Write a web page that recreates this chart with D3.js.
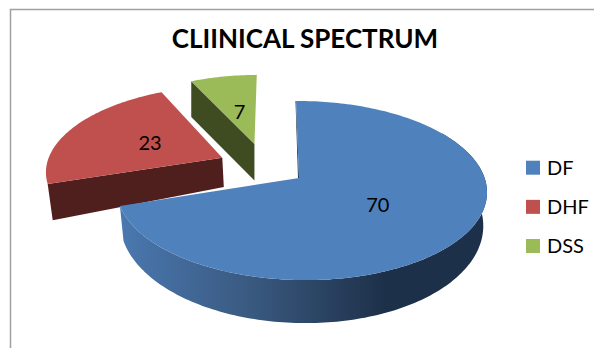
<!DOCTYPE html>
<html>
<head>
<meta charset="utf-8">
<script src="https://cdn.jsdelivr.net/npm/d3@7/dist/d3.min.js"></script>
<style>
html,body{margin:0;padding:0;background:#fff}
svg{display:block}
text{font-family:Lato,"Open Sans",sans-serif;fill:#000}
</style>
</head>
<body>
<svg id="chart" width="594" height="348"></svg>
<script>
const titleText = "CLIINICAL SPECTRUM";
const categories = ["DF", "DHF", "DSS"];
const values = [70, 23, 7];
const faceColors = ["#4f81bd", "#c0504d", "#9bbb59"];
const wallColors = ["#1f3552", "#4f1f1e", "#3f4b21"];

// Exploded offset of each slice on the pie's ground plane, in radii.
const explode = [[0, 0], [-0.43, -0.24], [-0.25, -0.41]];
// Distance of each value label from its slice's apex, in radii.
const labelRadius = [0.5, 0.47, 0.45];
// Lower rim of each slice: vertical drop, vertical stretch, horizontal stretch.
const lowerRim = [
  {dy: 32, ky: 1.108, kx: 0.98},
  {dy: 34.6, ky: 1.264, kx: 0.98},
  {dy: 36.7, ky: 1.01, kx: 1}
];
const topRim = {dy: 0, ky: 1, kx: 1};

const svg = d3.select("#chart");

// Perspective view of the tilted pie: ground-plane radii to screen pixels.
const view = {cx: 299, cy: 178, ax: 183.4, ay: 87.8, bv: -0.14, bu: -0.012, shear: 0.039};
function project(U, V, rim) {
  const w = 1 + view.bv * V + view.bu * U;
  const yFace = view.ay * V / w;
  const y = view.cy + rim.dy + rim.ky * yFace;
  const x = view.cx + rim.kx * view.ax * U / w + view.shear * yFace;
  return [x, y];
}

const arcs = d3.pie().sort(null).value(d => d)(values);
const line = d3.line();
const color = d3.scaleOrdinal().domain(categories).range(faceColors);

function rimPoints(a0, a1, off, rim) {
  const n = Math.max(2, Math.ceil((a1 - a0) / 0.02));
  return d3.range(n + 1).map(i => {
    const a = a0 + (a1 - a0) * i / n;
    return project(off[0] + Math.sin(a), off[1] - Math.cos(a), rim);
  });
}

// Shading along the front wall of the largest slice.
const defs = svg.append("defs");
const grad = defs.append("linearGradient")
  .attr("id", "frontWall").attr("gradientUnits", "userSpaceOnUse")
  .attr("x1", 120).attr("x2", 385).attr("y1", 0).attr("y2", 0);
grad.append("stop").attr("offset", 0).attr("stop-color", "#4a78b0");
grad.append("stop").attr("offset", 0.5).attr("stop-color", "#39597f");
grad.append("stop").attr("offset", 1).attr("stop-color", "#1d3049");

// Chart frame: only the top and left edges fall inside the canvas.
svg.append("path")
  .attr("d", "M10.5,348V9.5H594")
  .attr("fill", "none").attr("stroke", "#a0a0a0").attr("stroke-width", 1.5);

svg.append("text")
  .attr("x", 305).attr("y", 48).attr("text-anchor", "middle")
  .attr("font-size", 26).attr("font-weight", 700)
  .text(titleText);

// Far slices first so the near ones overlap them.
const order = [2, 1, 0];
const pieLayer = svg.append("g");
order.forEach(i => {
  const d = arcs[i], off = explode[i], low = lowerRim[i];
  const g = pieLayer.append("g");
  const apexTop = project(off[0], off[1], topRim);
  const apexLow = project(off[0], off[1], low);

  if (i === 0) {
    // Curved outer wall along the front of the pie.
    const t = rimPoints(1.0, d.endAngle, off, topRim);
    const b = rimPoints(1.0, d.endAngle, off, low).reverse();
    g.append("path").attr("d", line(t.concat(b)) + "Z").attr("fill", "url(#frontWall)");
    // Thin visible sliver of the vertical cut at twelve o'clock.
    const o = project(off[0], off[1] - 1, topRim);
    g.append("path")
      .attr("d", line([o, apexTop, [apexTop[0] - 1, apexTop[1]], [o[0] - 0.5, o[1]]]) + "Z")
      .attr("fill", wallColors[0]);
  } else {
    // Flat cut face towards the viewer.
    const a = d.startAngle;
    const oTop = project(off[0] + Math.sin(a), off[1] - Math.cos(a), topRim);
    const oLow = project(off[0] + Math.sin(a), off[1] - Math.cos(a), low);
    g.append("path")
      .attr("d", line([oTop, apexTop, apexLow, oLow]) + "Z")
      .attr("fill", wallColors[i]);
  }

  const rim = rimPoints(d.startAngle, d.endAngle, off, topRim);
  g.append("path")
    .attr("d", line([apexTop].concat(rim)) + "Z")
    .attr("fill", color(categories[i]));

  const mid = (d.startAngle + d.endAngle) / 2;
  const f = labelRadius[i];
  const p = project(off[0] + f * Math.sin(mid), off[1] - f * Math.cos(mid), topRim);
  g.append("text")
    .attr("x", p[0]).attr("y", p[1]).attr("dy", "0.36em")
    .attr("text-anchor", "middle").attr("font-size", 20)
    .text(values[i]);
});

// Legend
const legendY = d3.scalePoint().domain(categories).range([167.7, 246]);
const legend = svg.append("g").selectAll("g").data(categories).join("g")
  .attr("transform", d => `translate(526,${legendY(d)})`);
legend.append("rect")
  .attr("x", 0).attr("y", -7).attr("width", 14).attr("height", 14)
  .attr("fill", d => color(d));
legend.append("text")
  .attr("x", 21).attr("y", 7.3).attr("font-size", 20)
  .text(d => d);
</script>
</body>
</html>
